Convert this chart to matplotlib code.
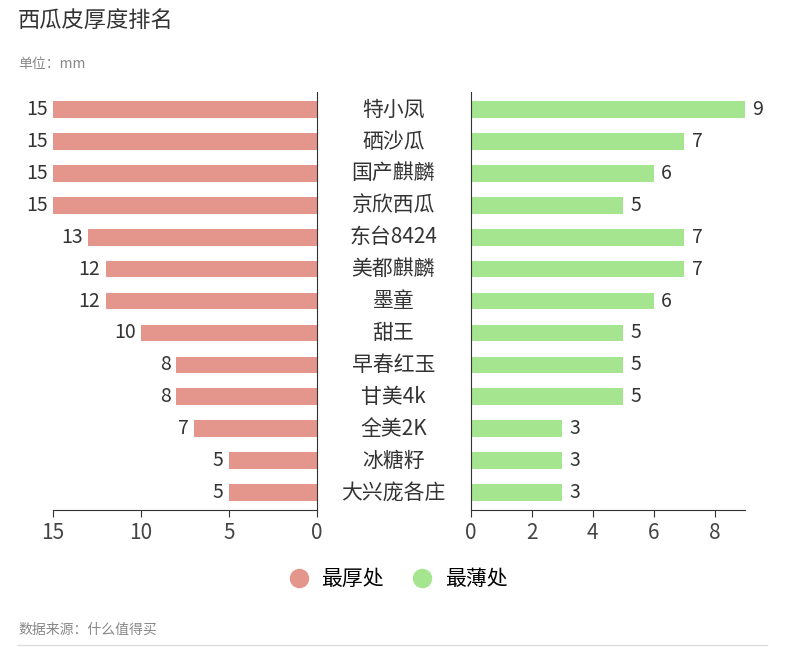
import matplotlib.pyplot as plt
from matplotlib.lines import Line2D

plt.rcParams['font.family'] = ['Noto Sans CJK SC', 'DejaVu Sans']

varieties = ["特小凤", "硒沙瓜", "国产麒麟", "京欣西瓜", "东台8424", "美都麒麟", "墨童",
             "甜王", "早春红玉", "甘美4k", "全美2K", "冰糖籽", "大兴庞各庄"]
thickest = [15, 15, 15, 15, 13, 12, 12, 10, 8, 8, 7, 5, 5]
thinnest = [9, 7, 6, 5, 7, 7, 6, 5, 5, 5, 3, 3, 3]

RED = "#e4968d"
GREEN = "#a6e590"
AXIS = "#333333"

fig = plt.figure(figsize=(7.85, 6.47), dpi=100)
ax_l = fig.add_axes([0.0675, 0.2117, 0.336, 0.646])
ax_r = fig.add_axes([0.6, 0.2117, 0.349, 0.646])
y = list(range(len(varieties)))

ax_l.barh(y, thickest, height=0.52, color=RED)
ax_l.set_xlim(15, 0)
ax_r.barh(y, thinnest, height=0.52, color=GREEN)
ax_r.set_xlim(0, 9)

for ax in (ax_l, ax_r):
    ax.set_ylim(12.55, -0.55)
    ax.set_yticks([])
    for s in ("top", "left", "right"):
        ax.spines[s].set_visible(False)
    ax.spines["bottom"].set_color(AXIS)
    ax.tick_params(axis="x", labelsize=15, colors=AXIS, length=5, labelcolor="#444444")
ax_l.spines["right"].set_visible(True)
ax_l.spines["right"].set_color(AXIS)
ax_r.spines["left"].set_visible(True)
ax_r.spines["left"].set_color(AXIS)
ax_l.set_xticks([15, 10, 5, 0])
ax_r.set_xticks([0, 2, 4, 6, 8])

for i, v in enumerate(thickest):
    ax_l.text(v + 0.3, i, str(v), ha="right", va="center", fontsize=14, color="#333333")
for i, v in enumerate(thinnest):
    ax_r.text(v + 0.25, i, str(v), ha="left", va="center", fontsize=14, color="#333333")
    ax_r.text(-2.55, i, varieties[i], ha="center", va="center", fontsize=15,
              color="#333333", clip_on=False)

fig.text(18 / 785, 1 - 20 / 647, "西瓜皮厚度排名", fontsize=16, color="#333333", va="center")
fig.text(18 / 785, 1 - 64 / 647, "单位：mm", fontsize=10, color="#888888", va="center")
fig.text(18 / 785, 1 - 630 / 647, "数据来源：什么值得买", fontsize=10, color="#888888", va="center")
fig.add_artist(Line2D([18 / 785, 767 / 785], [1 - 645 / 647] * 2, color="#dddddd", lw=1))

handles = [Line2D([], [], marker="o", ls="", ms=13, color=RED),
           Line2D([], [], marker="o", ls="", ms=13, color=GREEN)]
fig.legend(handles, ["最厚处", "最薄处"], loc="center", bbox_to_anchor=(0.5, 1 - 579 / 647),
           ncol=2, frameon=False, fontsize=15, handletextpad=0.1, columnspacing=0.8)

fig.savefig("out.png", dpi=100)
